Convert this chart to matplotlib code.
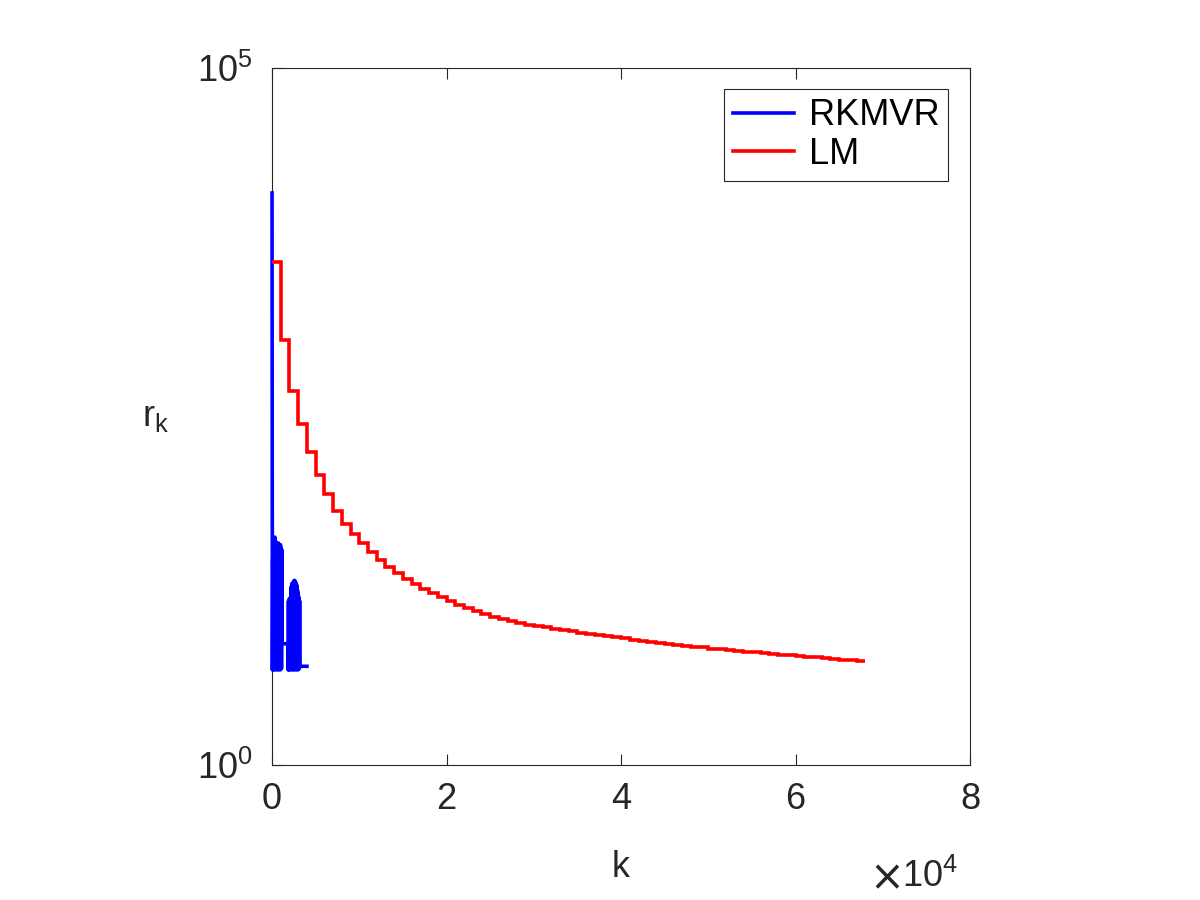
import numpy as np
import matplotlib
matplotlib.use('Agg')
import matplotlib.pyplot as plt

plt.rcParams['font.family'] = ['Liberation Sans', 'DejaVu Sans']
plt.rcParams['mathtext.fontset'] = 'custom'
plt.rcParams['mathtext.rm'] = 'Liberation Sans'
plt.rcParams['mathtext.it'] = 'Liberation Sans:italic'

# LM residuals: one value per block of 1000 iterations
lm_edges = np.arange(0, 69000, 1000)
lm_r = [4060, 1113, 482, 277, 176, 120, 87.2, 66.5, 53.4, 45.3,
        39.0, 33.6, 29.5, 26.3, 23.8, 21.5, 19.8, 18.3, 17.1, 16.0,
        15.0, 14.0, 13.3, 12.7, 12.1, 11.6, 11.1, 10.8, 10.4, 10.1,
        9.89, 9.68, 9.47, 9.29, 9.06, 8.88, 8.69, 8.52, 8.38, 8.22,
        8.07, 7.91, 7.77, 7.61, 7.49, 7.37, 7.25, 7.15, 7.06, 6.96,
        6.84, 6.73, 6.64, 6.57, 6.49, 6.42, 6.33, 6.26, 6.19, 6.11,
        6.04, 5.97, 5.90, 5.83, 5.76, 5.69, 5.63, 5.57]

# RKMVR residuals (dense oscillation, estimated peaks and troughs)
rkmvr_k = [0, 40, 80, 120, 160, 200, 240, 280, 320, 360, 400, 440, 480, 520,
           560, 600, 640, 680, 720, 760, 800, 840, 880, 920, 960, 1000, 1040,
           1080, 1120, 1150, 1800,
           1840, 1880, 1920, 1960, 2000, 2040, 2080, 2120, 2160, 2200, 2240,
           2280, 2320, 2360, 2400, 2440, 2480, 2520, 2560, 2600, 2640, 2680,
           2720, 2760, 2800, 2840, 2880, 2920, 2960, 3000, 3040, 3080, 3120,
           3160, 3200, 4000]
rkmvr_r = [12600, 4.8, 30, 4.9, 40, 4.8, 41, 5.0, 43, 4.9, 40, 4.8, 38, 5.0,
           39, 4.9, 38, 4.8, 39, 5.0, 38, 4.9, 37, 4.8, 38, 5.0, 36, 4.9,
           35, 7.4, 7.4,
           4.8, 15, 4.9, 15.5, 4.8, 15.5, 5.0, 16, 4.9, 19, 4.8,
           20, 5.0, 20, 4.9, 20.5, 4.8, 21, 5.0, 21, 4.9, 20.5,
           4.8, 20, 5.0, 19.5, 4.9, 18, 4.8, 17, 5.0, 16, 4.9,
           15, 5.1, 5.1]

dark = '#262626'
fs = 26

fig = plt.figure(figsize=(12, 9), dpi=100)
ax = fig.add_axes([0.2267, 0.15, 0.5817, 0.775])

ax.plot(rkmvr_k, rkmvr_r, color='#0000ff', lw=2.6, label='RKMVR',
        clip_on=False, zorder=3)
ax.stairs(lm_r, lm_edges, baseline=None, color='#ff0000', lw=2.6, label='LM',
          zorder=3)

ax.set_yscale('log')
ax.set_ylim(1, 1e5)
ax.set_xlim(0, 80000)
ax.set_yticks([1, 1e5])
ax.set_yticklabels([r'$\mathregular{10^0}$', r'$\mathregular{10^5}$'])
ax.yaxis.set_minor_locator(matplotlib.ticker.NullLocator())
ax.set_xticks([0, 20000, 40000, 60000, 80000])
ax.set_xticklabels(['0', '2', '4', '6', '8'])

ax.tick_params(direction='in', length=8, width=0.8, colors=dark,
               labelsize=fs, top=True, right=True)
ax.tick_params(axis='x', pad=12)
ax.tick_params(axis='y', pad=14)
for s in ax.spines.values():
    s.set_color(dark)
    s.set_linewidth(0.8)

ax.set_xlabel('k', fontsize=fs, color=dark, labelpad=24)
ax.set_ylabel(r'$\mathregular{r_k}$', fontsize=fs, color=dark, rotation=0,
              labelpad=30, va='center')
# MATLAB-style exponent under the right end of the x axis
ax.text(0.983, -0.16, r'$\mathregular{10^4}$', transform=ax.transAxes,
        ha='right', va='center', fontsize=fs, color=dark)
ax.text(0.881, -0.163, '\u00d7', transform=ax.transAxes, family='DejaVu Sans',
        ha='center', va='center', fontsize=30, color=dark)

leg = ax.legend(loc='upper right', fontsize=fs, frameon=True, fancybox=False,
                framealpha=1, edgecolor=dark, handlelength=1.7,
                borderpad=0.25, labelspacing=0.1, handletextpad=0.4,
                borderaxespad=0.6)
leg.get_frame().set_linewidth(0.8)

fig.savefig('out.png', dpi=100)
